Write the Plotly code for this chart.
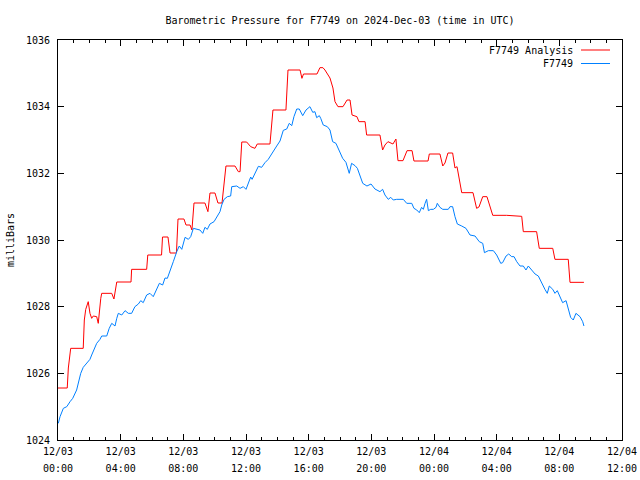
import plotly.graph_objects as go

# Hours since 2024-12-03 00:00 UTC and pressure (mbar)
analysis_hours = [0.00, 0.59, 0.66, 0.77, 0.81, 1.61, 1.68, 1.77, 1.87, 1.93, 2.04, 2.15, 2.25, 2.47, 2.57,
                  2.64, 2.73, 2.79, 3.43, 3.57, 3.64, 3.75, 4.66, 4.70, 5.66, 5.73, 6.61, 6.67, 7.02, 7.15,
                  7.56, 7.66, 8.04, 8.17, 8.43, 8.55, 8.68, 9.38, 9.57, 9.70, 10.02, 10.21, 10.47, 10.72,
                  11.30, 11.51, 11.62, 11.73, 12.04, 12.30, 12.57, 12.72, 13.53, 13.64, 13.72, 14.55, 14.68,
                  15.45, 15.57, 15.67, 16.53, 16.72, 16.91, 17.04, 17.36, 17.55, 17.68, 17.87, 18.19, 18.45,
                  18.64, 18.77, 19.08, 19.21, 19.60, 19.70, 20.55, 20.72, 20.87, 21.06, 21.38, 21.57, 21.70,
                  22.02, 22.28, 22.60, 22.72, 23.62, 23.70, 24.38, 24.56, 24.70, 24.89, 25.19, 25.34, 25.47,
                  25.60, 25.77, 26.49, 26.72, 26.87, 27.11, 27.38, 27.57, 27.75, 28.64, 29.60, 29.70, 30.55,
                  30.72, 31.58, 31.72, 32.57, 32.68, 33.57]
analysis_mbar = [1025.56, 1025.56, 1026.16, 1026.55, 1026.75, 1026.75, 1027.60, 1027.92, 1028.08, 1028.15,
                 1027.80, 1027.65, 1027.72, 1027.70, 1027.50, 1027.90, 1028.25, 1028.40, 1028.40, 1028.23,
                 1028.45, 1028.74, 1028.74, 1029.12, 1029.12, 1029.55, 1029.55, 1030.09, 1030.09, 1029.61,
                 1029.61, 1030.63, 1030.63, 1030.45, 1030.45, 1030.30, 1031.11, 1031.11, 1030.85, 1031.41,
                 1031.41, 1031.11, 1031.11, 1032.22, 1032.22, 1032.05, 1032.05, 1032.94, 1032.94, 1032.80,
                 1032.75, 1032.88, 1032.88, 1033.40, 1033.90, 1033.90, 1035.10, 1035.10, 1034.85, 1034.98,
                 1034.98, 1035.17, 1035.17, 1035.10, 1034.86, 1034.56, 1034.15, 1034.00, 1034.00, 1034.20,
                 1034.20, 1033.75, 1033.70, 1033.55, 1033.55, 1033.15, 1033.15, 1032.70, 1032.85, 1032.95,
                 1032.88, 1033.03, 1032.38, 1032.38, 1032.68, 1032.68, 1032.37, 1032.37, 1032.58, 1032.58,
                 1032.22, 1032.31, 1032.61, 1032.61, 1032.16, 1032.20, 1031.80, 1031.42, 1031.42, 1030.95,
                 1030.99, 1031.30, 1031.30, 1030.99, 1030.74, 1030.74, 1030.71, 1030.25, 1030.25, 1029.75,
                 1029.75, 1029.42, 1029.42, 1028.73, 1028.73]

station_hours = [0.02, 0.13, 0.34, 0.56, 0.77, 0.94, 1.19, 1.30, 1.45, 1.61, 1.83, 2.04, 2.15, 2.36, 2.47,
                 2.68, 2.79, 3.11, 3.27, 3.43, 3.64, 3.75, 3.85, 4.07, 4.28, 4.49, 4.70, 4.91, 5.13, 5.28,
                 5.44, 5.66, 5.87, 6.08, 6.30, 6.47, 6.68, 6.83, 6.98, 7.15, 7.36, 7.58, 7.74, 7.90, 8.11,
                 8.32, 8.47, 8.64, 8.85, 9.06, 9.24, 9.38, 9.53, 9.70, 9.96, 10.13, 10.34, 10.45, 10.60,
                 10.81, 11.02, 11.09, 11.41, 11.62, 11.83, 12.00, 12.15, 12.30, 12.39, 12.57, 12.79, 13.00,
                 13.21, 13.42, 13.64, 13.96, 14.17, 14.38, 14.60, 14.76, 14.92, 15.06, 15.24, 15.40, 15.62,
                 15.83, 16.08, 16.26, 16.40, 16.51, 16.68, 16.77, 16.93, 17.19, 17.36, 17.53, 17.74, 18.00,
                 18.17, 18.38, 18.59, 18.74, 18.96, 19.11, 19.28, 19.45, 19.72, 19.98, 20.23, 20.55, 20.72,
                 20.87, 21.08, 21.24, 21.40, 21.62, 22.04, 22.26, 22.58, 22.72, 22.90, 23.06, 23.21, 23.32,
                 23.43, 23.53, 23.64, 23.79, 23.96, 24.13, 24.21, 24.38, 24.56, 24.91, 25.02, 25.19, 25.34,
                 25.49, 25.77, 26.04, 26.30, 26.62, 26.89, 27.11, 27.22, 27.47, 27.79, 28.00, 28.26, 28.38,
                 28.60, 28.77, 28.96, 29.11, 29.28, 29.49, 29.70, 29.87, 30.02, 30.24, 30.45, 30.66, 30.87,
                 31.08, 31.23, 31.36, 31.58, 31.72, 31.87, 32.04, 32.21, 32.43, 32.57, 32.72, 32.89, 33.06,
                 33.32, 33.49, 33.57]
station_mbar = [1024.50, 1024.70, 1024.95, 1025.00, 1025.15, 1025.25, 1025.50, 1025.70, 1026.00, 1026.18,
                1026.32, 1026.42, 1026.55, 1026.75, 1026.90, 1027.02, 1027.12, 1027.12, 1027.35, 1027.50,
                1027.42, 1027.65, 1027.80, 1027.75, 1027.88, 1027.80, 1027.80, 1028.00, 1028.08, 1028.18,
                1028.12, 1028.35, 1028.40, 1028.30, 1028.55, 1028.70, 1028.65, 1028.86, 1028.85, 1029.10,
                1029.35, 1029.65, 1029.82, 1029.72, 1030.08, 1030.02, 1030.10, 1030.35, 1030.32, 1030.30,
                1030.20, 1030.38, 1030.32, 1030.48, 1030.55, 1030.70, 1030.85, 1031.05, 1031.22, 1031.30,
                1031.32, 1031.60, 1031.62, 1031.55, 1031.60, 1031.52, 1031.70, 1031.89, 1031.82, 1032.00,
                1032.21, 1032.18, 1032.32, 1032.42, 1032.60, 1032.82, 1032.97, 1033.29, 1033.33, 1033.50,
                1033.43, 1033.70, 1033.93, 1033.93, 1033.73, 1033.90, 1034.00, 1033.83, 1033.85, 1033.67,
                1033.73, 1033.65, 1033.45, 1033.40, 1033.30, 1032.95, 1032.90, 1032.65, 1032.45, 1032.33,
                1032.00, 1032.30, 1032.23, 1032.15, 1031.95, 1031.70, 1031.62, 1031.68, 1031.53, 1031.45,
                1031.52, 1031.35, 1031.22, 1031.28, 1031.20, 1031.22, 1031.22, 1031.10, 1031.10, 1030.95,
                1030.90, 1030.82, 1030.98, 1030.92, 1031.10, 1031.22, 1030.88, 1030.92, 1030.92, 1030.98,
                1031.10, 1030.98, 1030.92, 1030.92, 1031.00, 1031.00, 1030.70, 1030.48, 1030.42, 1030.35,
                1030.15, 1030.12, 1029.95, 1029.90, 1029.62, 1029.68, 1029.68, 1029.55, 1029.30, 1029.32,
                1029.52, 1029.58, 1029.50, 1029.50, 1029.35, 1029.22, 1029.22, 1029.10, 1029.22, 1029.08,
                1028.98, 1028.92, 1028.70, 1028.52, 1028.40, 1028.62, 1028.52, 1028.40, 1028.48, 1028.32,
                1028.12, 1028.18, 1027.90, 1027.68, 1027.60, 1027.80, 1027.70, 1027.55, 1027.42]

tick_hours = [0, 4, 8, 12, 16, 20, 24, 28, 32, 36]
tick_dates = ["12/03", "12/03", "12/03", "12/03", "12/03", "12/03", "12/04", "12/04", "12/04", "12/04"]
tick_times = ["00:00", "04:00", "08:00", "12:00", "16:00", "20:00", "00:00", "04:00", "08:00", "12:00"]
y_ticks = [1024, 1026, 1028, 1030, 1032, 1034, 1036]

RED = "#ff0000"
BLUE = "#0080ff"
FONT = "DejaVu Sans Mono"
FS = 10

W, H = 640, 480

fig = go.Figure()
fig.add_trace(go.Scatter(x=analysis_hours, y=analysis_mbar, mode="lines", name="F7749 Analysis",
                         line=dict(color=RED, width=1)))
fig.add_trace(go.Scatter(x=station_hours, y=station_mbar, mode="lines", name="F7749",
                         line=dict(color=BLUE, width=1)))
# empty trace so the second (time-of-day) label row is drawn
fig.add_trace(go.Scatter(x=[], y=[], xaxis="x2", showlegend=False, hoverinfo="skip"))

tfont = dict(family=FONT, size=FS, color="black")
axis_common = dict(showline=True, linecolor="black", linewidth=1, mirror="ticks", ticks="inside",
                   tickcolor="black", ticklen=6, tickwidth=1, showgrid=False, zeroline=False,
                   automargin=False, ticklabeloverflow="allow", tickfont=tfont)

fig.update_layout(
    xaxis=dict(range=[0, 36], tickmode="array", tickvals=tick_hours, ticktext=tick_dates,
               minor=dict(tickmode="array", tickvals=list(range(37)), ticks="inside", ticklen=3,
                          tickcolor="black", showgrid=False),
               ticklabelstandoff=2, **axis_common),
    xaxis2=dict(range=[0, 36], overlaying="x", side="bottom", anchor="y", tickmode="array",
                tickvals=tick_hours, ticktext=tick_times, ticks="", showline=False, showgrid=False,
                zeroline=False, automargin=False, ticklabeloverflow="allow", tickfont=tfont,
                ticklabelstandoff=21),
    yaxis=dict(range=[1024, 1036], tickmode="array", tickvals=y_ticks,
               ticktext=[str(v) for v in y_ticks], ticklabelstandoff=5,
               title=dict(text="milliBars", font=tfont, standoff=9), **axis_common),
)

# gnuplot-style legend (text left of sample line)
legend_items = [("F7749 Analysis", RED), ("F7749", BLUE)]
for i, (label, color) in enumerate(legend_items):
    yp = 1 - (10 + 13.5 * i) / 400
    fig.add_annotation(x=(575 - 58) / 564, y=yp, xref="paper", yref="paper", text=label,
                       showarrow=False, xanchor="right", yanchor="middle",
                       font=dict(family=FONT, size=FS, color="black"))
    fig.add_shape(type="line", xref="paper", yref="paper", x0=(581 - 58) / 564, x1=(610 - 58) / 564,
                  y0=yp, y1=yp, line=dict(color=color, width=1))

fig.update_layout(
    width=W, height=H,
    margin=dict(l=58, r=18, t=40, b=40, autoexpand=False),
    paper_bgcolor="white", plot_bgcolor="white",
    showlegend=False,
    hovermode=False,
    title=dict(text="Barometric Pressure for F7749 on 2024-Dec-03 (time in UTC)",
               x=0.5, xanchor="center", xref="paper", y=1 - 20 / H,
               yanchor="middle", automargin=False, font=tfont),
    font=tfont,
)

# remove the page's default body margin so the 640x480 figure fills the window exactly
fig.write_html("out.html", config={"displayModeBar": False, "staticPlot": True},
               post_script="document.body.style.margin='0';document.body.style.overflow='hidden';")
